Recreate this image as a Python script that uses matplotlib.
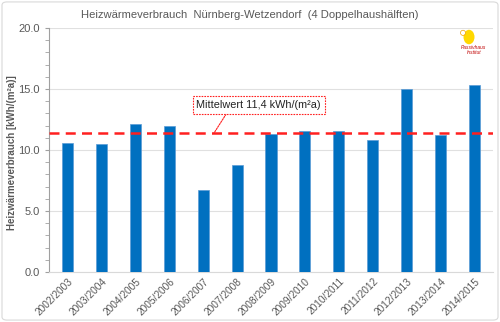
import numpy as np
import matplotlib.pyplot as plt
from matplotlib.patches import FancyBboxPatch, Ellipse

plt.rcParams['font.family'] = ['Liberation Sans', 'DejaVu Sans']

seasons = ['2002/2003', '2003/2004', '2004/2005', '2005/2006', '2006/2007',
           '2007/2008', '2008/2009', '2009/2010', '2010/2011', '2011/2012',
           '2012/2013', '2013/2014', '2014/2015']
verbrauch = [10.6, 10.5, 12.1, 12.0, 6.75, 8.8, 11.3, 11.6, 11.55, 10.8, 15.0, 11.25, 15.3]
mittelwert = 11.4

grey = '#595959'

fig = plt.figure(figsize=(5, 3.22), dpi=100)
ax = fig.add_axes([0.098, 0.155, 0.888, 0.758])

x = np.arange(len(seasons))
ax.bar(x, verbrauch, width=0.33, color='#0070C0', edgecolor='#5b9bd5', linewidth=0.5, zorder=3)
ax.axhline(mittelwert, color='#ff2020', linestyle=(0, (4, 2.5)), linewidth=1.8, zorder=4)

ax.set_xlim(-0.55, len(seasons) - 0.45)
ax.set_ylim(0, 20)
ax.set_yticks(np.arange(0, 20.1, 5))
ax.set_yticks(np.arange(0, 20.1, 1), minor=True)
ax.set_yticklabels([f'{v:.1f}' for v in np.arange(0, 20.1, 5)], fontsize=8, color=grey)
ax.set_xticks(x)
ax.set_xticklabels(seasons, rotation=45, ha='right', rotation_mode='anchor', fontsize=7.3, color=grey)
ax.tick_params(axis='x', length=0, pad=3)
ax.tick_params(axis='y', which='both', length=3, color='#a0a0a0', direction='out')
ax.grid(axis='y', color='#e0e0e0', linewidth=0.8, zorder=0)

for s in ['top', 'right']:
    ax.spines[s].set_visible(False)
ax.spines['left'].set_color('#a0a0a0')
ax.spines['bottom'].set_color('#d9d9d9')

ax.set_ylabel('Heizwärmeverbrauch [kWh/(m²a)]', fontsize=7, color=grey, fontweight='bold')
ax.yaxis.set_label_coords(-0.073, 0.49)
fig.text(0.5, 0.952, 'Heizwärmeverbrauch  Nürnberg-Wetzendorf  (4 Doppelhaushälften)',
         ha='center', va='center', fontsize=8.1, color=grey)

ax.annotate('Mittelwert 11,4 kWh/(m²a)', xy=(4.32, mittelwert), xytext=(3.8, 13.7),
            fontsize=7.8, color='#222222', ha='left', va='center',
            bbox=dict(boxstyle='square,pad=0.35', fc='white', ec='#ff2020', ls=(0, (1.5, 1)), lw=0.8),
            arrowprops=dict(arrowstyle='-', color='#ff2020', lw=0.8, ls=(0, (1.5, 1)),
                            shrinkA=0, shrinkB=0, relpos=(0.26, 0)), zorder=5)

# Passivhaus Institut logo (simplified)
fig.patches.append(Ellipse((0.938, 0.885), 0.022, 0.045, transform=fig.transFigure,
                           fc='#ffd800', ec='none'))
fig.patches.append(Ellipse((0.926, 0.898), 0.01, 0.016, transform=fig.transFigure,
                           fc='white', ec='#f0a000', lw=0.5))
fig.text(0.948, 0.845, 'Passivhaus\nInstitut', fontsize=3.5, color='#c00000', style='italic',
         ha='center', va='center', linespacing=1.0)

# outer border
fig.patches.append(FancyBboxPatch((0.004, 0.006), 0.992, 0.988, boxstyle='round,pad=0,rounding_size=0.01',
                                  transform=fig.transFigure, fc='none', ec='#d9d9d9', lw=0.8))

fig.savefig('out.png', dpi=100)
